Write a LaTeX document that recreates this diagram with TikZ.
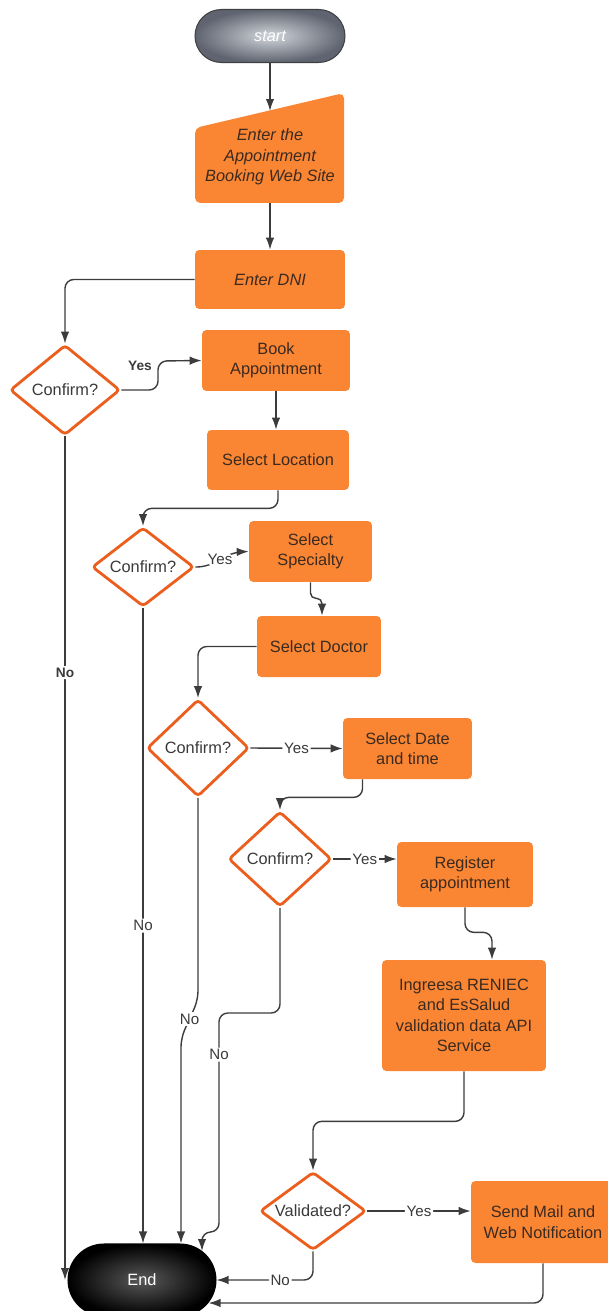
\documentclass[tikz,border=0pt]{standalone}
\usepackage{xcolor}
\usepackage{fontspec}
\setmainfont{Liberation Sans}
\usepackage{tikz}
\usetikzlibrary{arrows.meta,positioning,shapes}

\definecolor{boxorange}{HTML}{FA8633}
\definecolor{boxtext}{HTML}{3B2A20}
\definecolor{choiceorange}{HTML}{EB5E1E}
\definecolor{choicetext}{HTML}{3A3A3A}
\definecolor{linegray}{HTML}{3C3C3C}
\definecolor{startlight}{HTML}{D2D5DB}
\definecolor{startdark}{HTML}{5F6470}

\begin{document}
\begin{tikzpicture}[
		x=0.02cm, y=-0.02cm,
		font=\fontsize{9.3}{11.6}\selectfont,
		slanted/.style={font=\fontsize{9.3}{11.6}\selectfont\itshape},
		box/.style={fill=boxorange, rounded corners=2.5pt, text=boxtext, align=center, inner sep=2pt},
		choice/.style={diamond, draw=choiceorange, line width=1.6pt, fill=white, rounded corners=2pt, text=choicetext, inner sep=0pt},
		arr/.style={draw=linegray, line width=0.8pt, rounded corners=5pt, -{Latex[length=2.4mm,width=1.7mm]}},
		lbl/.style={fill=white, text=choicetext, inner sep=1pt, font=\fontsize{8.6}{10}\selectfont},
		boldlbl/.style={fill=white, text=choicetext, inner sep=1pt, font=\fontsize{7.8}{9}\selectfont\bfseries}]
		\useasboundingbox (0,0) rectangle (608,1311);

		\node [draw=black!75, line width=0.6pt, rounded corners=0.53cm, minimum width=3cm, minimum height=1.06cm,
			inner color=startlight, outer color=startdark, text=white, slanted] (start) at (270,36) {start};
		\fill [boxorange, rounded corners=3pt] (195,128) -- (344,93) -- (344,203) -- (195,203) -- cycle;
		\node [text=boxtext, align=center, slanted] (site) at (270,157) {Enter the\\Appointment\\Booking Web Site};
		\coordinate (sitein) at (270,111);
		\coordinate (siteout) at (270,203);
		\node [box, slanted, minimum width=3cm, minimum height=1.18cm] (dni) at (270,279.5) {Enter DNI};
		\node [choice, aspect=1.22, minimum width=2.2cm, minimum height=1.8cm] (c1) at (65,390) {Confirm?};
		\node [box, minimum width=2.96cm, minimum height=1.22cm] (book) at (276,360.5) {Book\\Appointment};
		\node [box, minimum width=2.84cm, minimum height=1.2cm] (loc) at (278,460) {Select Location};
		\node [choice, aspect=1.29, minimum width=2.04cm, minimum height=1.58cm] (c2) at (143,567) {Confirm?};
		\node [box, minimum width=2.46cm, minimum height=1.22cm] (spec) at (310.5,551.5) {Select\\Specialty};
		\node [box, minimum width=2.48cm, minimum height=1.22cm] (doc) at (319,646.5) {Select Doctor};
		\node [choice, aspect=1.05, minimum width=2.04cm, minimum height=1.94cm] (c3) at (198,748) {Confirm?};
		\node [box, minimum width=2.58cm, minimum height=1.22cm] (date) at (407.5,748.5) {Select Date\\and time};
		\node [choice, aspect=1.08, minimum width=2.06cm, minimum height=1.9cm] (c4) at (280,859) {Confirm?};
		\node [box, minimum width=2.72cm, minimum height=1.3cm] (reg) at (465,874.5) {Register\\appointment};
		\node [box, minimum width=3.28cm, minimum height=2.22cm] (api) at (464,1015.5) {Ingreesa RENIEC\\and EsSalud\\validation data API\\Service};
		\node [choice, aspect=1.36, minimum width=2.12cm, minimum height=1.56cm] (val) at (313,1211) {Validated?};
		\node [box, minimum width=2.88cm, minimum height=1.64cm] (send) at (543,1222) {Send Mail and\\Web Notification};
		\node [draw=black, line width=0.6pt, rounded corners=0.72cm, minimum width=2.96cm, minimum height=1.44cm,
			inner color=black!65, outer color=black, text=white] (end) at (142,1280) {End};

		\draw [arr] (start) -- (sitein);
		\draw [arr] (siteout) -- (dni);
		\draw [arr] (dni.west) -| (c1.north);
		\draw [arr] (c1.east) -- (158,390) -- (158,361) -- (book.west);
		\node [boldlbl, fill=none] (yes1) at (140,366) {Yes};
		\draw [arr] (book.south) -- (book.south |- loc.north);
		\draw [arr] (loc.south) -- ++(0,18) -| (c2.north);
		\draw [arr] (c2.east) -- (206,567) -- node [lbl] {Yes} (234,552) -- (spec.west);
		\draw [arr, rounded corners=3pt] (spec.south) -- ++(0,16) -| ([xshift=0.06cm]doc.north);
		\draw [arr] (doc.west) -| (c3.north);
		\draw [arr] (c3.east) -- node [lbl] {Yes} (date.west);
		\draw [arr] ([xshift=-0.9cm]date.south) -- ++(0,18) -| (c4.north);
		\draw [arr] (c4.east) -- node [lbl] {Yes} (c4.east -| reg.west);
		\draw [arr] (reg.south) -- ++(0,25) -| ([xshift=0.56cm]api.north);
		\draw [arr] (api.south) -- ++(0,50) -| (val.north);
		\draw [arr] (val.east) -- node [lbl] {Yes} (val.east -| send.west);

		\draw [arr] (c1.south) -- node [boldlbl, pos=0.28] {No} (c1.south |- end.west);
		\draw [arr] (c2.south) -- node [lbl, pos=0.5] {No} (c2.south |- end.north);
		\draw [arr] (c3.south) -- (198,1000) -- node [lbl] {No} (181,1038) -- ([xshift=0.78cm]end.north);
		\draw [arr] (c4.south) -- (280,1013) -- (219,1013) -- node [lbl, pos=0.19] {No} (219,1232) -- (202,1232) -- ([xshift=1.2cm,yshift=0.58cm]end.center);
		\draw [arr] (val.south) |- node [lbl, pos=0.67] {No} (end.east);
		\draw [arr] (send.south) |- ([xshift=-0.16cm,yshift=-0.46cm]end.east);
\end{tikzpicture}
\end{document}
